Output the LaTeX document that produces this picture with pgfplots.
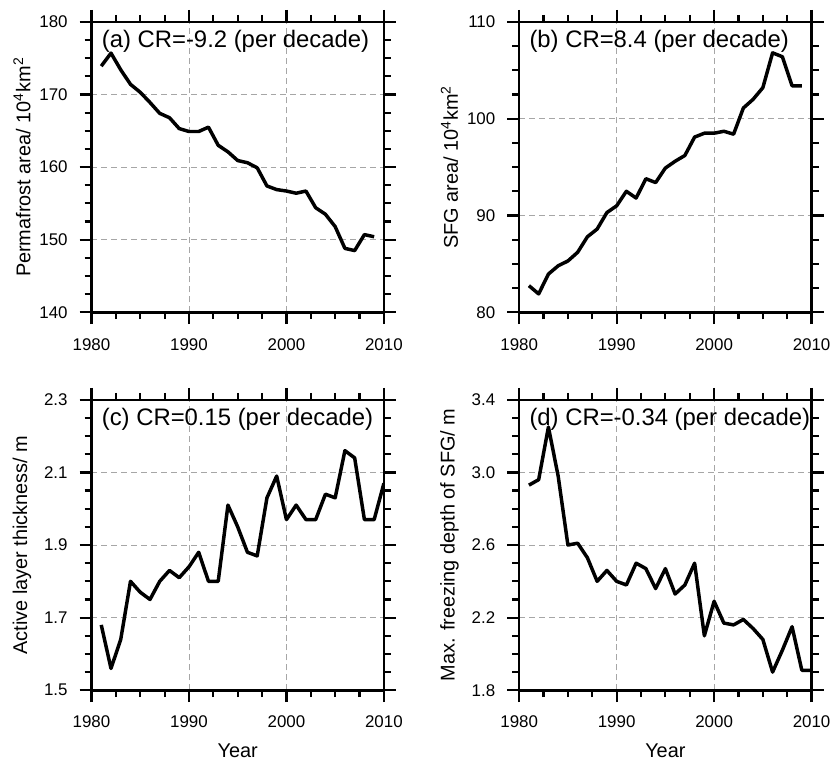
\documentclass[border=0pt]{standalone}
\usepackage{fontspec}
\setmainfont{Liberation Sans}
\usepackage{pgfplots}
\pgfplotsset{compat=1.18}

\tikzset{
  dat/.style={black, line width=1.75pt, line join=round},
  panel/.style={anchor=west, font=\fontsize{12}{14}\selectfont, inner sep=0pt},
}
\pgfplotsset{
  ncl/.style={
    scale only axis, width=147pt, height=146pt,
    xmin=1980, xmax=2010, xtick={1980,1990,2000,2010},
    minor x tick num=3, minor y tick num=3,
    tick align=outside,
    major tick length=6pt, minor tick length=3.5pt,
    every tick/.style={black, line width=1.1pt},
    axis line style={line width=1.3pt},
    grid=major,
    major grid style={gray!70, line width=0.4pt, dash pattern=on 3pt off 2pt},
    tick label style={font=\fontsize{8.5}{10}\selectfont},
    label style={font=\fontsize{11}{13}\selectfont},
    xticklabel shift=3.5pt, yticklabel shift=2.5pt,
    /pgf/number format/assume math mode=true,
    xticklabel style={/pgf/number format/1000 sep={}},
    every axis y label/.style={at={([xshift=-35pt]axis description cs:0,0.5)}, rotate=90, anchor=center},
    every axis x label/.style={at={([yshift=-30.5pt]axis description cs:0.5,0)}, anchor=center},
    clip=true,
  },
}

\begin{document}
\begin{tikzpicture}
\path (0,0) rectangle (418.5pt,-383.5pt);

% (a)
\begin{axis}[ncl, at={(46pt,-11pt)}, anchor=north west,
  ymin=140, ymax=180, ytick={140,150,160,170,180},
  ylabel={Permafrost area/ 10\textsuperscript{4}km\textsuperscript{2}}]
\addplot[dat, no marks] coordinates {
(1981,173.9) (1982,175.7) (1983,173.4) (1984,171.4) (1985,170.3)
(1986,168.9) (1987,167.4) (1988,166.8) (1989,165.3) (1990,164.9)
(1991,164.9) (1992,165.5) (1993,163.0) (1994,162.1) (1995,160.9)
(1996,160.6) (1997,159.9) (1998,157.4) (1999,156.9) (2000,156.7)
(2001,156.4) (2002,156.7) (2003,154.4) (2004,153.5) (2005,151.8)
(2006,148.8) (2007,148.5) (2008,150.7) (2009,150.4)};
\node[panel] at ([xshift=5pt,yshift=-10pt]rel axis cs:0,1) {(a) CR=-9.2 (per decade)};
\end{axis}

% (b)
\begin{axis}[ncl, at={(261pt,-11pt)}, anchor=north west,
  ymin=80, ymax=110, ytick={80,90,100,110},
  ylabel={SFG area/ 10\textsuperscript{4}km\textsuperscript{2}}]
\addplot[dat, no marks] coordinates {
(1981,82.75) (1982,81.9) (1983,83.95) (1984,84.8) (1985,85.3)
(1986,86.2) (1987,87.8) (1988,88.6) (1989,90.3) (1990,91.0)
(1991,92.5) (1992,91.8) (1993,93.8) (1994,93.4) (1995,94.9)
(1996,95.6) (1997,96.2) (1998,98.1) (1999,98.5) (2000,98.5)
(2001,98.7) (2002,98.4) (2003,101.1) (2004,102.0) (2005,103.2)
(2006,106.8) (2007,106.4) (2008,103.4) (2009,103.4)};
\node[panel] at ([xshift=5pt,yshift=-10pt]rel axis cs:0,1) {(b) CR=8.4 (per decade)};
\end{axis}

% (c)
\begin{axis}[ncl, at={(46pt,-201pt)}, anchor=north west,
  ymin=1.5, ymax=2.3, ytick={1.5,1.7,1.9,2.1,2.3},
  yticklabel style={/pgf/number format/.cd, fixed, fixed zerofill, precision=1},
  xlabel={Year}, ylabel={Active layer thickness/ m}]
\addplot[dat, no marks] coordinates {
(1981,1.68) (1982,1.56) (1983,1.64) (1984,1.80) (1985,1.77)
(1986,1.75) (1987,1.80) (1988,1.83) (1989,1.81) (1990,1.84)
(1991,1.88) (1992,1.80) (1993,1.80) (1994,2.01) (1995,1.95)
(1996,1.88) (1997,1.87) (1998,2.03) (1999,2.09) (2000,1.97)
(2001,2.01) (2002,1.97) (2003,1.97) (2004,2.04) (2005,2.03)
(2006,2.16) (2007,2.14) (2008,1.97) (2009,1.97) (2010,2.07)};
\node[panel] at ([xshift=5pt,yshift=-10pt]rel axis cs:0,1) {(c) CR=0.15 (per decade)};
\end{axis}

% (d)
\begin{axis}[ncl, at={(261pt,-201pt)}, anchor=north west,
  ymin=1.8, ymax=3.4, ytick={1.8,2.2,2.6,3.0,3.4},
  yticklabel style={/pgf/number format/.cd, fixed, fixed zerofill, precision=1},
  xlabel={Year}, ylabel={Max. freezing depth of SFG/ m}]
\addplot[dat, no marks] coordinates {
(1981,2.93) (1982,2.96) (1983,3.25) (1984,2.98) (1985,2.60)
(1986,2.61) (1987,2.53) (1988,2.40) (1989,2.46) (1990,2.40)
(1991,2.38) (1992,2.50) (1993,2.47) (1994,2.36) (1995,2.47)
(1996,2.33) (1997,2.38) (1998,2.50) (1999,2.10) (2000,2.29)
(2001,2.17) (2002,2.16) (2003,2.19) (2004,2.14) (2005,2.08)
(2006,1.90) (2007,2.02) (2008,2.15) (2009,1.91) (2010,1.91)};
\node[panel] at ([xshift=5pt,yshift=-10pt]rel axis cs:0,1) {(d) CR=-0.34 (per decade)};
\end{axis}
\end{tikzpicture}
\end{document}
